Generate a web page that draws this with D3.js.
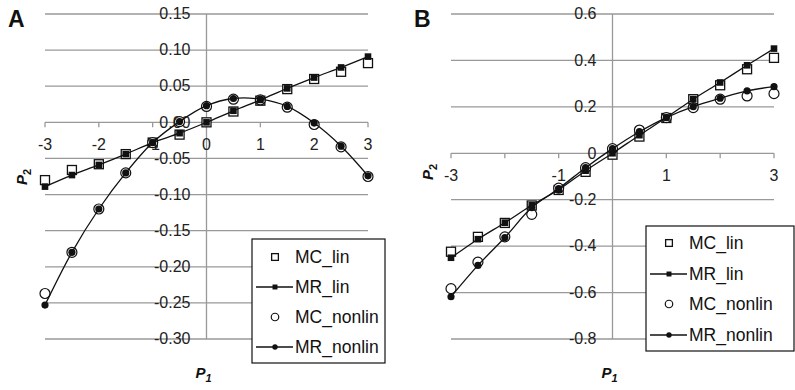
<!DOCTYPE html>
<meta charset="utf-8">
<style>
  body { margin: 0; background: #fff; }
  svg { display: block; font-family: "Liberation Sans", Arial, sans-serif; }
  .grid { stroke: #999; stroke-width: 1.3px; fill: none; }
  .tick-label { font-size: 16px; fill: #222; }
  .legend-box { fill: #fff; stroke: #111; stroke-width: 1.2px; }
  .legend-text { font-size: 17.5px; fill: #111; }
  .panel-letter { font-size: 23px; font-weight: bold; fill: #111; }
  .axis-title { font-size: 15px; font-weight: bold; font-style: italic; fill: #111; }
  .series-line { fill: none; stroke: #111; stroke-width: 1.3px; }
</style>
<svg width="795" height="390"></svg>
<script src="https://d3js.org/d3.v7.min.js"></script>
<script>

  // P1 values shared by every series
  var p1 = [-3, -2.5, -2, -1.5, -1, -0.5, 0, 0.5, 1, 1.5, 2, 2.5, 3];

  // panel A
  var aMCLin    = [-0.080, -0.066, -0.058, -0.044, -0.028, -0.017, 0.000, 0.015, 0.030, 0.046, 0.060, 0.070, 0.082];
  var aMRLin    = [-0.089, -0.073, -0.059, -0.044, -0.028, -0.015, 0.000, 0.016, 0.031, 0.047, 0.062, 0.076, 0.091];
  var aMCNonlin = [-0.237, -0.180, -0.120, -0.070, -0.028, 0.001, 0.022, 0.032, 0.031, 0.021, -0.003, -0.034, -0.075];
  var aMRNonlin = [-0.253, -0.180, -0.120, -0.070, -0.028, 0.001, 0.023, 0.033, 0.032, 0.022, -0.001, -0.033, -0.074];
  var aYTicks  = [0.15, 0.10, 0.05, 0, -0.05, -0.10, -0.15, -0.20, -0.25, -0.30];
  var aYLabels = ["0.15", "0.10", "0.05", "0.00", "-0.05", "-0.10", "-0.15", "-0.20", "-0.25", "-0.30"];
  var aXTicks  = [-3, -2, -1, 0, 1, 2, 3];
  var aXLabels = ["-3", "-2", "-1", "0", "1", "2", "3"];

  // panel B
  var bMCLin    = [-0.424, -0.360, -0.300, -0.225, -0.158, -0.080, -0.006, 0.072, 0.152, 0.233, 0.293, 0.362, 0.411];
  var bMRLin    = [-0.450, -0.370, -0.299, -0.224, -0.157, -0.075, 0.000, 0.078, 0.154, 0.233, 0.305, 0.379, 0.451];
  var bMCNonlin = [-0.583, -0.469, -0.360, -0.263, -0.150, -0.062, 0.020, 0.100, 0.154, 0.197, 0.233, 0.247, 0.257];
  var bMRNonlin = [-0.618, -0.483, -0.363, -0.234, -0.152, -0.062, 0.020, 0.093, 0.154, 0.201, 0.237, 0.269, 0.287];
  var bYTicks  = [0.6, 0.4, 0.2, 0, -0.2, -0.4, -0.6, -0.8];
  var bYLabels = ["0.6", "0.4", "0.2", "0", "-0.2", "-0.4", "-0.6", "-0.8"];
  var bXTicks  = [-3, -2, -1, 0, 1, 2, 3];
  var bXLabels = ["-3", "", "-1", "", "1", "", "3"];

  var seriesNames = ["MC_lin", "MR_lin", "MC_nonlin", "MR_nonlin"];

  var svg = d3.select("svg");

  var panels = [
    { letter: "A", left: 45, right: 368, top: 14, bottom: 339,
      yDomain: [-0.30, 0.15], yTicks: aYTicks, yLabels: aYLabels,
      xTicks: aXTicks, xLabels: aXLabels,
      series: [aMCLin, aMRLin, aMCNonlin, aMRNonlin],
      legend: { x: 252, y: 239, w: 133, h: 124, rowY: [257, 287, 317, 347] },
      p2: [23, 177] },
    { letter: "B", left: 451, right: 774, top: 14, bottom: 339,
      yDomain: [-0.8, 0.6], yTicks: bYTicks, yLabels: bYLabels,
      xTicks: bXTicks, xLabels: bXLabels,
      series: [bMCLin, bMRLin, bMCNonlin, bMRNonlin],
      legend: { x: 646, y: 226, w: 148, h: 125, rowY: [243, 274, 304, 335] },
      p2: [429, 172] }
  ];

  function marker(sel, kind, s) {
    // kind: 0 open square, 1 filled square, 2 open circle, 3 filled circle; s scales it
    s = s || 1;
    if (kind === 0) {
      sel.append("rect").attr("x", -4.5 * s).attr("y", -4.5 * s).attr("width", 9 * s).attr("height", 9 * s)
        .attr("fill", "#fff").attr("stroke", "#111").attr("stroke-width", 1.3);
    } else if (kind === 1) {
      sel.append("rect").attr("x", -3.3 * s).attr("y", -3.3 * s).attr("width", 6.6 * s).attr("height", 6.6 * s)
        .attr("fill", "#111");
    } else if (kind === 2) {
      sel.append("circle").attr("r", 5 * s).attr("fill", "#fff").attr("stroke", "#111").attr("stroke-width", 1.2);
    } else {
      sel.append("circle").attr("r", 3.6 * s).attr("fill", "#111");
    }
  }

  panels.forEach(function(p) {
    var g = svg.append("g");

    var x = d3.scaleLinear().domain([-3, 3]).range([p.left, p.right]);
    var y = d3.scaleLinear().domain(p.yDomain).range([p.bottom, p.top]);
    var x0 = x(0), y0 = y(0);

    // horizontal gridlines
    g.selectAll(".hgrid").data(p.yTicks).enter().append("line")
      .attr("class", "grid")
      .attr("x1", p.left).attr("x2", p.right)
      .attr("y1", function(d) { return y(d); }).attr("y2", function(d) { return y(d); });

    // vertical axis through P1 = 0
    g.append("line").attr("class", "grid")
      .attr("x1", x0).attr("x2", x0).attr("y1", p.top).attr("y2", p.bottom);

    // x tick marks on the P2 = 0 line
    g.selectAll(".xtick").data(p.xTicks).enter().append("line")
      .attr("class", "grid")
      .attr("x1", function(d) { return x(d); }).attr("x2", function(d) { return x(d); })
      .attr("y1", y0).attr("y2", y0 + 5);

    // y labels
    g.selectAll(".ylab").data(p.yTicks).enter().append("text")
      .attr("class", "tick-label")
      .attr("x", x0 - 16)
      .attr("y", function(d) { return y(d) + 1; })
      .attr("text-anchor", "end")
      .attr("dominant-baseline", "middle")
      .text(function(d, i) { return p.yLabels[i]; });

    // x labels
    g.selectAll(".xlab").data(p.xTicks).enter().append("text")
      .attr("class", "tick-label")
      .attr("x", function(d) { return x(d); })
      .attr("y", y0 + 23)
      .attr("text-anchor", "middle")
      .attr("dominant-baseline", "middle")
      .text(function(d, i) { return p.xLabels[i]; });

    var line = d3.line()
      .x(function(d, i) { return x(p1[i]); })
      .y(function(d) { return y(d); })
      .curve(d3.curveCatmullRom.alpha(0.5));

    // MC series (markers only), then MR series (line + markers)
    [0, 2, 1, 3].forEach(function(k) {
      var vals = p.series[k];
      if (k === 1 || k === 3) {
        g.append("path").attr("class", "series-line").attr("d", line(vals));
      }
      g.selectAll(".m" + k).data(vals).enter().append("g")
        .attr("transform", function(d, i) { return "translate(" + x(p1[i]) + "," + y(d) + ")"; })
        .each(function() { marker(d3.select(this), k); });
    });

    // legend
    var L = p.legend;
    g.append("rect").attr("class", "legend-box")
      .attr("x", L.x).attr("y", L.y).attr("width", L.w).attr("height", L.h);
    seriesNames.forEach(function(name, k) {
      var cy = L.rowY[k], cx = L.x + 23;
      if (k === 1 || k === 3) {
        g.append("line").attr("class", "series-line")
          .attr("x1", cx - 19).attr("x2", cx + 18).attr("y1", cy).attr("y2", cy);
      }
      marker(g.append("g").attr("transform", "translate(" + cx + "," + cy + ")"), k, 0.75);
      g.append("text").attr("class", "legend-text")
        .attr("x", L.x + 43).attr("y", cy + 1)
        .attr("dominant-baseline", "middle")
        .text(name);
    });

    // panel letter
    g.append("text").attr("class", "panel-letter")
      .attr("x", p.left - 37).attr("y", 27)
      .text(p.letter);

    // P1 title
    var t1 = g.append("text").attr("class", "axis-title")
      .attr("x", x0 - 3).attr("y", 378).attr("text-anchor", "middle");
    t1.append("tspan").text("P");
    t1.append("tspan").attr("dy", 4).attr("font-size", 11).text("1");

    // P2 title
    var t2 = g.append("text").attr("class", "axis-title")
      .attr("text-anchor", "middle")
      .attr("transform", "translate(" + (p.p2[0] + 4) + "," + p.p2[1] + ") rotate(-90)");
    t2.append("tspan").text("P");
    t2.append("tspan").attr("dy", 4).attr("font-size", 11).attr("font-style", "normal").text("2");
  });

</script>
